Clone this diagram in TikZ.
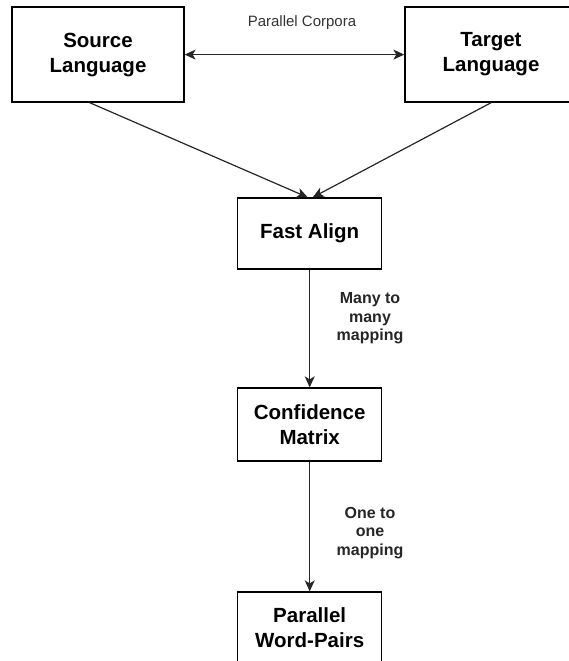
\documentclass[tikz,border=0pt]{standalone}
\usepackage{fontspec}
\setmainfont{Liberation Sans}
\usetikzlibrary{arrows.meta,calc}
\tikzset{
  box/.style={draw=black, line width=1.3pt, fill=white, align=center, inner sep=0pt,
    font=\fontsize{20.5}{25}\selectfont\bfseries},
  bigbox/.style={box, minimum width=172pt, minimum height=95pt},
  smallbox/.style={box, minimum width=144pt, minimum height=72pt},
  tip/.tip={Stealth[length=11pt,width=10pt,inset=3pt]},
  conn/.style={draw=black!85, line width=1.2pt, -tip},
  lbl/.style={align=center, inner sep=0pt, font=\fontsize{16}{18.5}\selectfont\bfseries, text=black!85},
  toplbl/.style={inner sep=0pt, font=\fontsize{15}{18}\selectfont, text=black!80}
}
\begin{document}
\begin{tikzpicture}[x=1pt, y=-1pt]
\useasboundingbox (0,0) rectangle (568,661);
\node[bigbox] (src) at (98,54.6) {Source\\Language};
\node[bigbox] (tgt) at (491,54.6) {Target\\Language};
\node[smallbox, minimum height=71pt] (fa) at (309.7,233.5) {Fast Align};
\node[smallbox, minimum height=73pt] (cm) at (309.7,424.5) {Confidence\\Matrix};
\node[smallbox] (wp) at (309.7,628) {Parallel\\Word-Pairs};
\node[toplbl] (pc) at (302,23) {Parallel Corpora};
\coordinate (srcout) at ($(src.south west)!0.453!(src.south east)$);
\draw[conn, tip-tip] (src.east) -- (tgt.west);
\draw[conn] (srcout) -- ($(fa.north)+(-2,0)$);
\draw[conn] (tgt.south) -- ($(fa.north)+(3,0)$);
\draw[conn] (fa.south) -- (cm.north);
\draw[conn] (cm.south) -- (wp.north);
\node[lbl] (l1) at (370,318.5) {Many to\\many\\mapping};
\node[lbl] (l2) at (370,533) {One to\\one\\mapping};
\end{tikzpicture}
\end{document}
